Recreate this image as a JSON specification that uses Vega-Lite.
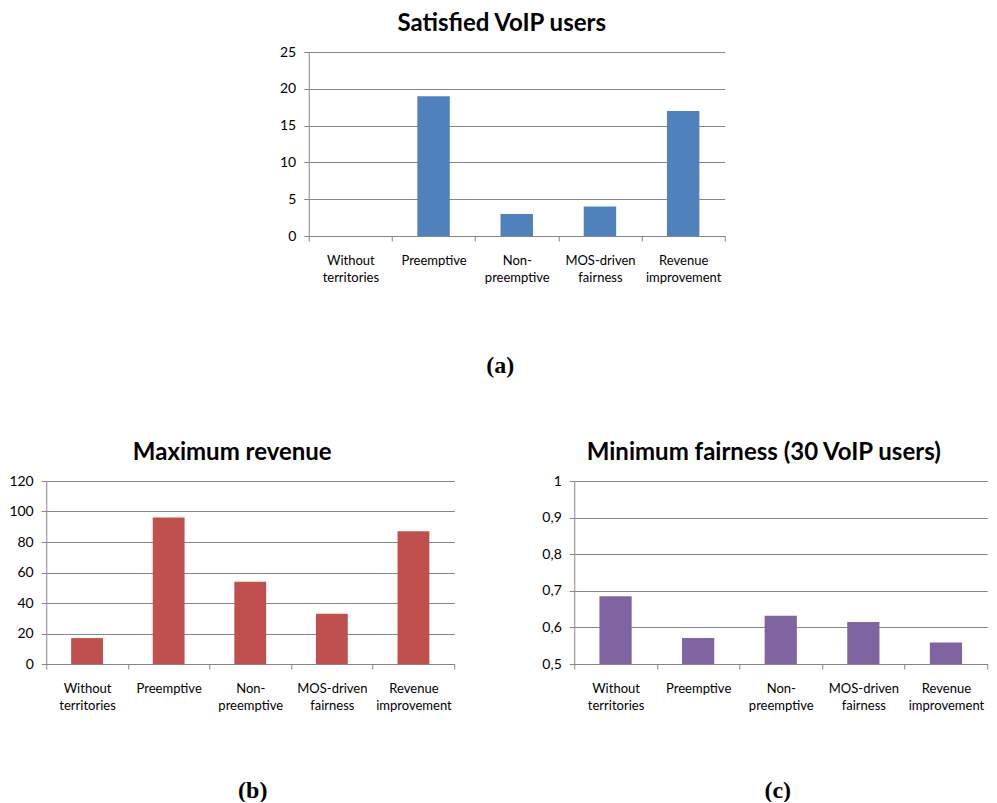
{
  "$schema": "https://vega.github.io/schema/vega-lite/v6.json",
  "background": "white",
  "padding": {"left": 8, "top": 12, "right": 2, "bottom": 0},
  "datasets": {
    "satisfied": [
      {"scheme": "Without territories", "users": 0},
      {"scheme": "Preemptive", "users": 19},
      {"scheme": "Non-preemptive", "users": 3},
      {"scheme": "MOS-driven fairness", "users": 4},
      {"scheme": "Revenue improvement", "users": 17}
    ],
    "revenue": [
      {"scheme": "Without territories", "revenue": 17},
      {"scheme": "Preemptive", "revenue": 96},
      {"scheme": "Non-preemptive", "revenue": 54},
      {"scheme": "MOS-driven fairness", "revenue": 33},
      {"scheme": "Revenue improvement", "revenue": 87}
    ],
    "fairness": [
      {"scheme": "Without territories", "fairness": 0.685},
      {"scheme": "Preemptive", "fairness": 0.571},
      {"scheme": "Non-preemptive", "fairness": 0.632},
      {"scheme": "MOS-driven fairness", "fairness": 0.615},
      {"scheme": "Revenue improvement", "fairness": 0.559}
    ]
  },
  "config": {
    "view": {"stroke": null},
    "font": "Lato",
    "axis": {
      "gridColor": "#868686",
      "domainColor": "#868686",
      "tickColor": "#868686",
      "labelColor": "#000000",
      "labelFont": "Lato",
      "gridOpacity": 1,
      "domainWidth": 1,
      "tickWidth": 1
    },
    "axisY": {"tickSize": 5, "labelPadding": 8, "labelFontSize": 14, "title": null},
    "axisX": {
      "tickSize": 5,
      "labelPadding": 13,
      "labelFontSize": 13,
      "labelAngle": 0,
      "labelLineHeight": 17,
      "labelBaseline": "top",
      "grid": false,
      "tickBand": "extent",
      "titleFont": "Liberation Serif",
      "titleFontWeight": "bold",
      "titleFontSize": 24,
      "titleColor": "#000000",
      "titleBaseline": "middle"
    },
    "title": {"font": "Lato", "fontWeight": "bold", "fontSize": 24, "color": "#000000", "offset": 9}
  },
  "center": true,
  "spacing": 64,
  "vconcat": [
    {
      "data": {"name": "satisfied"},
      "title": {"text": "Satisfied VoIP users", "dx": -15},
      "width": 416,
      "height": 184,
      "mark": {"type": "bar", "color": "#4F81BD", "width": {"band": 0.39}},
      "encoding": {
        "x": {
          "field": "scheme", "type": "nominal", "sort": null,
          "scale": {"paddingInner": 0, "paddingOuter": 0},
          "axis": {
            "title": "(a)", "titleX": 191, "titleY": 129,
            "labelExpr": "!isValid(datum.value) ? '' : datum.value == 'Non-preemptive' ? ['Non-', 'preemptive'] : split(datum.value, ' ')"
          }
        },
        "y": {
          "field": "users", "type": "quantitative",
          "scale": {"domain": [0, 25]},
          "axis": {"values": [0, 5, 10, 15, 20, 25]}
        }
      }
    },
    {
      "spacing": 86,
      "hconcat": [
        {
          "data": {"name": "revenue"},
          "title": {"text": "Maximum revenue", "dx": -18},
          "width": 408,
          "height": 183,
          "mark": {"type": "bar", "color": "#C0504D", "width": {"band": 0.39}},
          "encoding": {
            "x": {
              "field": "scheme", "type": "nominal", "sort": null,
              "scale": {"paddingInner": 0, "paddingOuter": 0},
              "axis": {
                "title": "(b)", "titleX": 206, "titleY": 126,
                "labelExpr": "!isValid(datum.value) ? '' : datum.value == 'Non-preemptive' ? ['Non-', 'preemptive'] : split(datum.value, ' ')"
              }
            },
            "y": {
              "field": "revenue", "type": "quantitative",
              "scale": {"domain": [0, 120]},
              "axis": {"values": [0, 20, 40, 60, 80, 100, 120]}
            }
          }
        },
        {
          "data": {"name": "fairness"},
          "title": {"text": "Minimum fairness (30 VoIP users)", "dx": -17},
          "width": 413,
          "height": 183,
          "mark": {"type": "bar", "color": "#8064A2", "width": {"band": 0.39}},
          "encoding": {
            "x": {
              "field": "scheme", "type": "nominal", "sort": null,
              "scale": {"paddingInner": 0, "paddingOuter": 0},
              "axis": {
                "title": "(c)", "titleX": 203, "titleY": 126,
                "labelExpr": "!isValid(datum.value) ? '' : datum.value == 'Non-preemptive' ? ['Non-', 'preemptive'] : split(datum.value, ' ')"
              }
            },
            "y": {
              "field": "fairness", "type": "quantitative",
              "scale": {"domain": [0.5, 1], "zero": false},
              "axis": {
                "values": [0.5, 0.6, 0.7, 0.8, 0.9, 1],
                "labelExpr": "replace(format(datum.value, '.1~f'), '.', ',')"
              }
            },
            "y2": {"datum": 0.5}
          }
        }
      ]
    }
  ]
}
